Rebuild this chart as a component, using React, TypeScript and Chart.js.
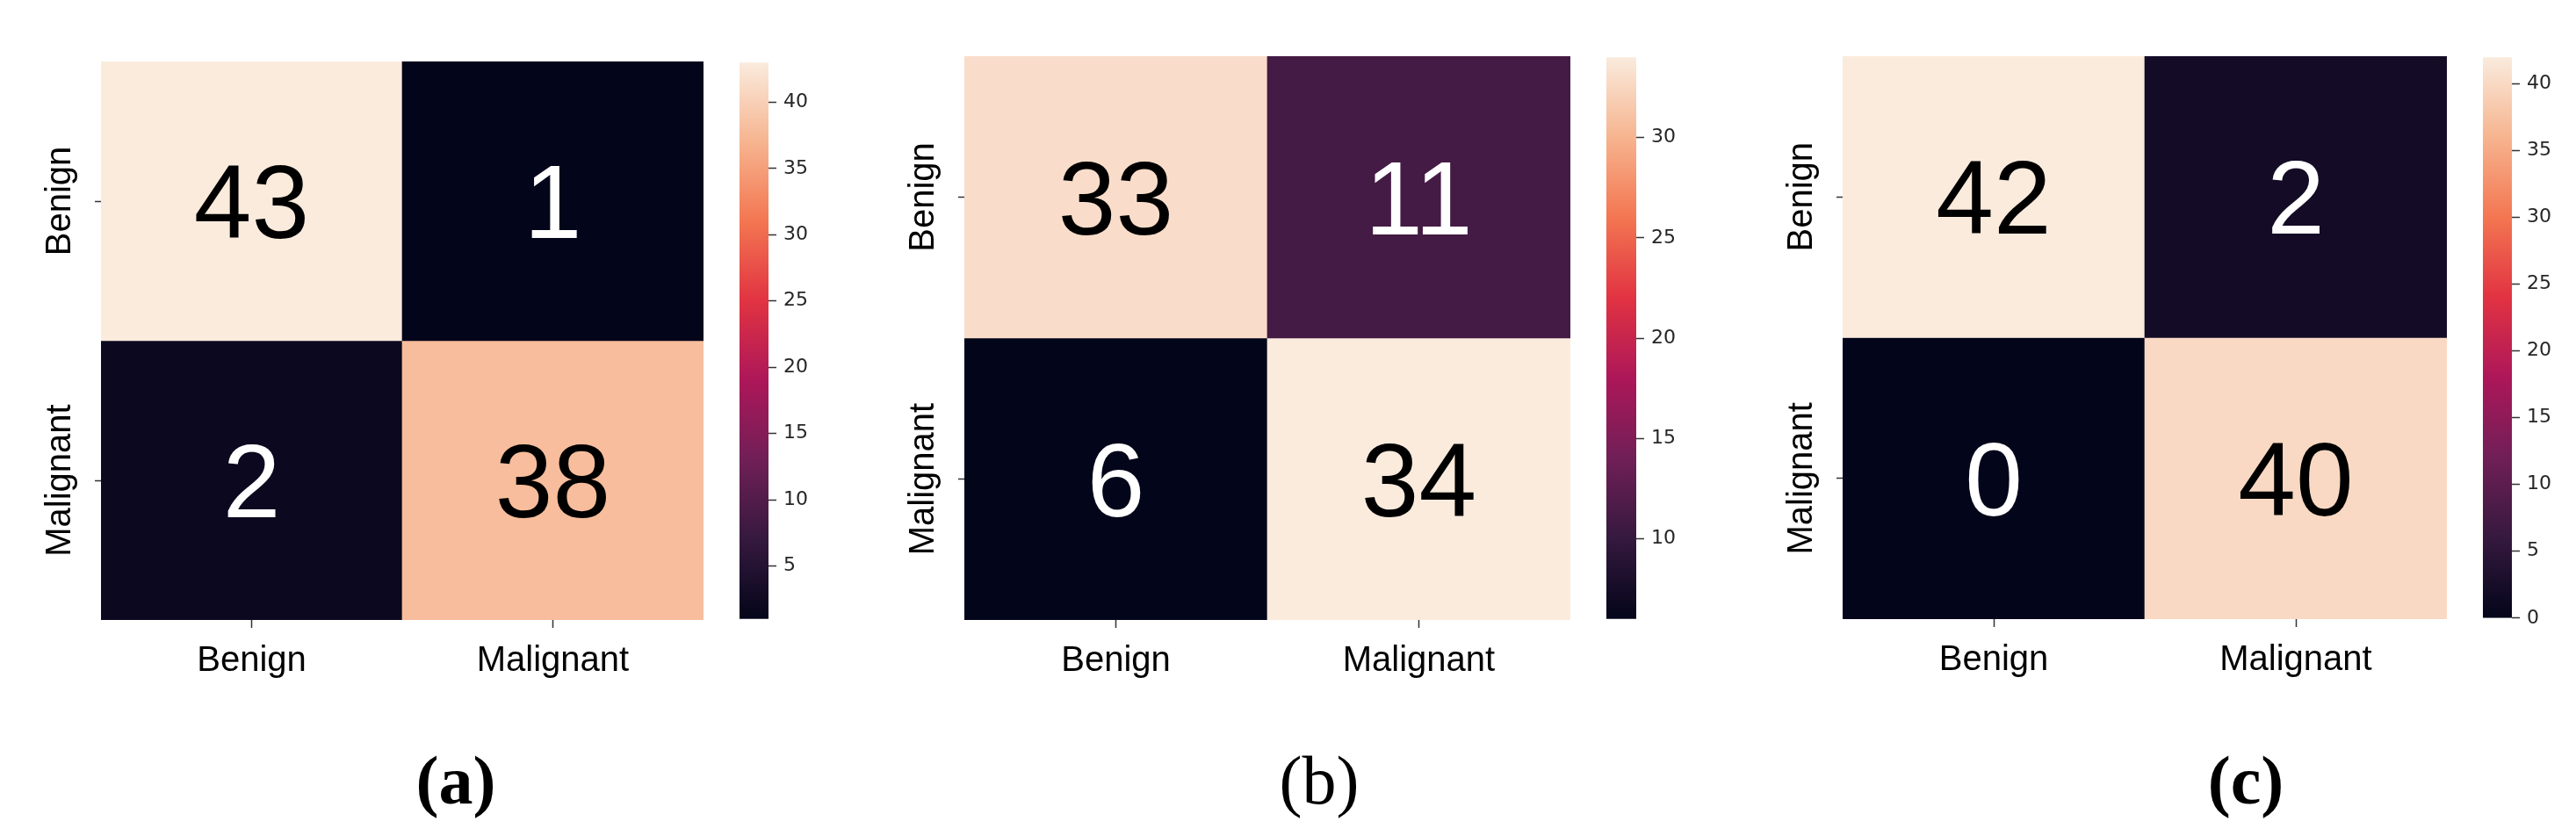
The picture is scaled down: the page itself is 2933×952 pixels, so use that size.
import React, { useEffect, useRef } from 'react';
import { Chart, registerables } from 'chart.js';

Chart.register(...registerables);

// ---------------- data ----------------
const classLabels = ['Benign', 'Malignant'];
const cmA = [
  [43, 1],
  [2, 38],
];
const cmB = [
  [33, 11],
  [6, 34],
];
const cmC = [
  [42, 2],
  [0, 40],
];
const cbTicksA = [5, 10, 15, 20, 25, 30, 35, 40];
const cbTicksB = [10, 15, 20, 25, 30];
const cbTicksC = [0, 5, 10, 15, 20, 25, 30, 35, 40];
const panelLabels = ['(a)', '(b)', '(c)'];

// seaborn "rocket" colormap anchors
const rocketStops: [number, number[]][] = [
  [0, [3, 5, 26]],
  [1 / 7, [53, 25, 62]],
  [2 / 7, [112, 31, 87]],
  [3 / 7, [173, 23, 89]],
  [4 / 7, [225, 51, 66]],
  [5 / 7, [243, 118, 81]],
  [6 / 7, [246, 180, 143]],
  [1, [250, 235, 221]],
];

function rocket(t: number): number[] {
  const tt = Math.max(0, Math.min(1, t));
  for (let i = 1; i < rocketStops.length; i++) {
    const [t1, c1] = rocketStops[i];
    const [t0, c0] = rocketStops[i - 1];
    if (tt <= t1) {
      const f = (tt - t0) / (t1 - t0);
      return c0.map((c, k) => Math.round(c + (c1[k] - c) * f));
    }
  }
  return rocketStops[rocketStops.length - 1][1];
}
const rgb = (c: number[]) => `rgb(${c[0]},${c[1]},${c[2]})`;
function luminance(c: number[]) {
  const lin = c.map((v) => {
    const s = v / 255;
    return s <= 0.03928 ? s / 12.92 : Math.pow((s + 0.055) / 1.055, 2.4);
  });
  return 0.2126 * lin[0] + 0.7152 * lin[1] + 0.0722 * lin[2];
}

const SANS = "'Liberation Sans', Arial, Helvetica, sans-serif";
const DEJAVU = "'DejaVu Sans', sans-serif";
const SERIF = "'Liberation Serif', 'Times New Roman', serif";

type Box = { l: number; t: number; r: number; b: number };

const Y_AXIS_W = 115;
const X_AXIS_H = 94;

const cellTextPlugin = {
  id: 'cellText',
  afterDatasetsDraw(chart: any) {
    const ctx = chart.ctx;
    ctx.save();
    chart.data.datasets.forEach((ds: any, di: number) => {
      const meta = chart.getDatasetMeta(di);
      meta.data.forEach((el: any, i: number) => {
        const v = ds.values[i];
        const { x, y, base } = el.getProps(['x', 'y', 'base'], true);
        const cy = (y + base) / 2;
        const size = 118;
        ctx.font = `${size}px ${SANS}`;
        ctx.textAlign = 'center';
        ctx.textBaseline = 'alphabetic';
        ctx.fillStyle = ds.textColors[i];
        ctx.fillText(String(v), x, cy + 0.358 * size);
      });
    });
    ctx.restore();
  },
};

const yLabelPlugin = {
  id: 'yLabels',
  afterDraw(chart: any) {
    const ctx = chart.ctx;
    const ys = chart.scales.y;
    ctx.save();
    ctx.font = `40px ${SANS}`;
    ctx.fillStyle = '#000';
    ctx.textAlign = 'center';
    ctx.textBaseline = 'alphabetic';
    classLabels.forEach((lab, r) => {
      const py = ys.getPixelForValue(r + 0.5);
      const px = chart.chartArea.left - 35;
      ctx.save();
      ctx.translate(px, py);
      ctx.rotate(-Math.PI / 2);
      ctx.fillText(lab, 0, 0);
      ctx.restore();
    });
    ctx.restore();
  },
};

function Heatmap({ cm, box }: { cm: number[][]; box: Box }) {
  const ref = useRef<HTMLCanvasElement>(null);
  const width = Y_AXIS_W + (box.r - box.l);
  const height = box.b + X_AXIS_H;
  useEffect(() => {
    const flat = cm.flat();
    const vmin = Math.min(...flat);
    const vmax = Math.max(...flat);
    const colOf = (v: number) => rocket((v - vmin) / (vmax - vmin));
    const datasets = cm.map((row, r) => ({
      label: classLabels[r],
      data: row.map(() => [r, r + 1]),
      values: row,
      backgroundColor: row.map((v) => rgb(colOf(v))),
      textColors: row.map((v) => (luminance(colOf(v)) > 0.408 ? '#000' : '#fff')),
      grouped: false,
      barPercentage: 1,
      categoryPercentage: 1,
      borderWidth: 0,
    }));
    const chart = new Chart(ref.current as HTMLCanvasElement, {
      type: 'bar',
      data: { labels: classLabels, datasets: datasets as any },
      options: {
        responsive: false,
        animation: false,
        events: [],
        layout: { padding: { top: box.t, right: 0, left: 0, bottom: 0 } },
        plugins: { legend: { display: false }, tooltip: { enabled: false } },
        scales: {
          x: {
            type: 'category',
            offset: true,
            grid: {
              offset: false,
              drawOnChartArea: false,
              drawTicks: true,
              tickLength: 9,
              tickWidth: 1.5,
              tickColor: '#333',
            },
            border: { display: false },
            ticks: {
              font: { family: SANS, size: 40 },
              color: '#000',
              padding: 14,
              maxRotation: 0,
              minRotation: 0,
            },
            afterFit: (s: any) => {
              s.height = X_AXIS_H;
            },
          },
          y: {
            type: 'linear',
            min: 0,
            max: 2,
            reverse: true,
            grid: {
              drawOnChartArea: false,
              drawTicks: true,
              tickLength: 7,
              tickWidth: 1.5,
              tickColor: '#333',
            },
            border: { display: false },
            ticks: { display: false },
            afterBuildTicks: (s: any) => {
              s.ticks = classLabels.map((_, i) => ({ value: i + 0.5 }));
            },
            afterFit: (s: any) => {
              s.width = Y_AXIS_W;
            },
          },
        },
      },
      plugins: [cellTextPlugin, yLabelPlugin],
    });
    return () => chart.destroy();
  }, []);
  return (
    <canvas
      ref={ref}
      width={width}
      height={height}
      style={{ position: 'absolute', left: box.l - Y_AXIS_W, top: 0, width, height }}
    />
  );
}

const CB_PAD = 20;
const CB_AXIS_W = 70;

function Colorbar({ cm, ticks, box, cbl, cbr }: { cm: number[][]; ticks: number[]; box: Box; cbl: number; cbr: number }) {
  const ref = useRef<HTMLCanvasElement>(null);
  const width = cbr - cbl + CB_AXIS_W;
  const height = box.b - box.t + 2 * CB_PAD;
  useEffect(() => {
    const flat = cm.flat();
    const vmin = Math.min(...flat);
    const vmax = Math.max(...flat);
    const chart = new Chart(ref.current as HTMLCanvasElement, {
      type: 'bar',
      data: {
        labels: [''],
        datasets: [
          {
            data: [[vmin, vmax]] as any,
            backgroundColor: (c: any) => {
              const area = c.chart.chartArea;
              if (!area) return 'rgba(0,0,0,0)';
              const g = c.chart.ctx.createLinearGradient(0, area.bottom, 0, area.top);
              rocketStops.forEach(([t, col]) => g.addColorStop(t, rgb(col)));
              return g;
            },
            barPercentage: 1,
            categoryPercentage: 1,
            borderWidth: 0,
          },
        ],
      },
      options: {
        responsive: false,
        animation: false,
        events: [],
        layout: { padding: { top: CB_PAD, bottom: CB_PAD, left: 0, right: 0 } },
        plugins: { legend: { display: false }, tooltip: { enabled: false } },
        scales: {
          x: { display: false, offset: true },
          y: {
            type: 'linear',
            position: 'right',
            min: vmin,
            max: vmax,
            grid: {
              drawOnChartArea: false,
              drawTicks: true,
              tickLength: 9,
              tickWidth: 1.5,
              tickColor: '#333',
            },
            border: { display: false },
            ticks: {
              font: { family: DEJAVU, size: 22 },
              color: '#262626',
              padding: 8,
            },
            afterBuildTicks: (s: any) => {
              s.ticks = ticks.map((v) => ({ value: v }));
            },
            afterFit: (s: any) => {
              s.width = CB_AXIS_W;
            },
          },
        },
      },
    });
    return () => chart.destroy();
  }, []);
  return (
    <canvas
      ref={ref}
      width={width}
      height={height}
      style={{ position: 'absolute', left: cbl, top: box.t - CB_PAD, width, height }}
    />
  );
}

const panels = [
  { cm: cmA, ticks: cbTicksA, label: panelLabels[0], bold: true, heat: { l: 115, t: 70, r: 801, b: 706 }, cbl: 842, cbr: 875, labelX: 519 },
  { cm: cmB, ticks: cbTicksB, label: panelLabels[1], bold: false, heat: { l: 1098, t: 64, r: 1788, b: 706 }, cbl: 1829, cbr: 1863, labelX: 1502 },
  { cm: cmC, ticks: cbTicksC, label: panelLabels[2], bold: true, heat: { l: 2098, t: 64, r: 2786, b: 705 }, cbl: 2827, cbr: 2860, labelX: 2557 },
];

export default function App() {
  return (
    <div
      style={{
        position: 'absolute',
        left: 0,
        top: 0,
        width: 2933,
        height: 952,
        background: '#fff',
        overflow: 'hidden',
      }}
    >
      {panels.map((p, i) => (
        <React.Fragment key={i}>
          <Heatmap cm={p.cm} box={p.heat} />
          <Colorbar cm={p.cm} ticks={p.ticks} box={p.heat} cbl={p.cbl} cbr={p.cbr} />
          <div
            style={{
              position: 'absolute',
              left: p.labelX,
              top: 850,
              transform: 'translateX(-50%)',
              fontFamily: SERIF,
              fontSize: 78,
              lineHeight: '78px',
              fontWeight: p.bold ? 'bold' : 'normal',
              color: '#000',
              whiteSpace: 'nowrap',
            }}
          >
            {p.label}
          </div>
        </React.Fragment>
      ))}
    </div>
  );
}
